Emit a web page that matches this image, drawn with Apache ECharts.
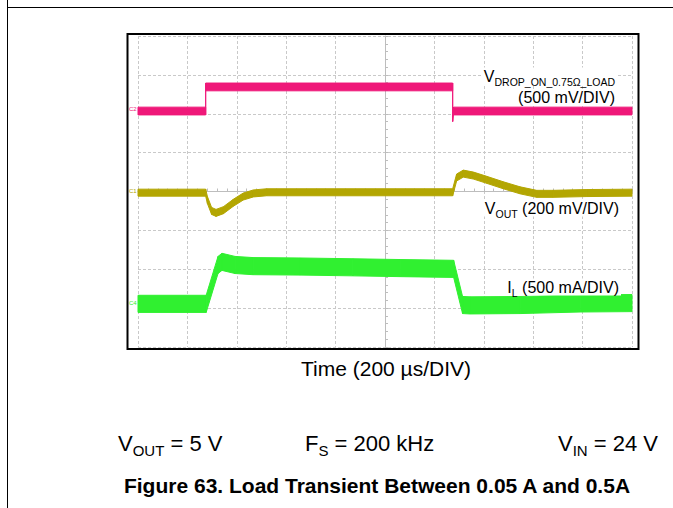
<!DOCTYPE html>
<html>
<head>
<meta charset="utf-8">
<script src="https://cdn.jsdelivr.net/npm/echarts@6.0.0/dist/echarts.min.js"></script>
<style>
  html, body { margin: 0; padding: 0; background: #fff; }
  #chart { width: 673px; height: 508px; }
</style>
</head>
<body>
<div id="chart"></div>
<script>
// scope screen: time in µs from the centre graticule, values in divisions from the centre line
const timeRange = [-1000, 1000]   // 10 div x 200 µs
const divRange = [-4, 4]          // 8 div

// C2: V_DROP (500 mV/DIV)
const pinkTime = [-1000, -726, -726, 274, 274, 277, 1000]
const pinkDiv = [2.07, 2.07, 2.69, 2.69, 1.9, 2.07, 2.07]

// C1: V_OUT (200 mV/DIV)
const oliveTime = [-1000, -726, -719, -702, -684, -654, -614, -574, -533, -479, 274, 290, 317, 358, 412, 479, 547, 614, 681, 817, 1000]
const oliveDiv = [-0.03, -0.03, -0.22, -0.5, -0.55, -0.48, -0.29, -0.13, -0.05, -0.02, -0.02, 0.36, 0.46, 0.41, 0.3, 0.16, 0.03, -0.06, -0.06, -0.04, -0.03]

// C4: I_L (500 mA/DIV)
const greenTime = [-1000, -724, -676, -660, -607, -534, -344, -130, 61, 278, 314, 344, 547, 790, 1000]
const greenDiv = [-2.89, -2.89, -1.89, -1.81, -1.89, -1.92, -1.93, -1.95, -1.97, -1.99, -2.92, -2.93, -2.92, -2.88, -2.87]

const FONT = "'Liberation Sans', Arial, sans-serif"
const GRID_GRAY = '#c9c9c9'
const AXIS_GRAY = '#bdbdbd'

// noisy scope trace drawn as a band of fixed vertical thickness (half, in divisions)
function traceBand(name, times, values, color, half) {
  return {
    type: 'custom',
    name,
    silent: true,
    coordinateSystem: 'cartesian2d',
    data: times.map((t, i) => [t, values[i]]),
    renderItem(params, api) {
      const i = params.dataIndex
      if (i >= times.length - 1) return null
      const a = times[i]
      const b = times[i + 1]
      const points = [
        api.coord([a, values[i] + half]),
        api.coord([b, values[i + 1] + half]),
        api.coord([b, values[i + 1] - half]),
        api.coord([a, values[i] - half])
      ]
      return {
        type: 'polygon',
        shape: { points },
        style: { fill: color, stroke: color, lineWidth: 1 }
      }
    }
  }
}

function label(x, y, text, rich, z) {
  return {
    type: 'text',
    x, y, z: z || 20,
    style: {
      text,
      rich,
      font: '16px ' + FONT,
      fill: '#000',
      align: 'right',
      verticalAlign: 'middle',
      backgroundColor: '#fff',
      padding: [0, 2, 0, 2]
    }
  }
}

const subRich = {
  m: { fontSize: 16, fontFamily: FONT, lineHeight: 17, verticalAlign: 'bottom' },
  s: { fontSize: 10.5, fontFamily: FONT, lineHeight: 17, verticalAlign: 'bottom', padding: [0, 0, -3, 0] }
}

const footRich = {
  m: { fontSize: 22, fontFamily: FONT, lineHeight: 26, verticalAlign: 'bottom' },
  s: { fontSize: 15, fontFamily: FONT, lineHeight: 26, verticalAlign: 'bottom', padding: [0, 0, -4, 0] }
}

const chart = echarts.init(document.getElementById('chart'), null, { renderer: 'svg' })

chart.setOption({
  animation: false,
  backgroundColor: '#fff',
  grid: { left: 138, top: 36, width: 494, height: 311 },
  xAxis: {
    type: 'value',
    min: timeRange[0],
    max: timeRange[1],
    interval: 200,
    axisLabel: { show: false },
    axisLine: { show: true, onZero: true, lineStyle: { color: AXIS_GRAY, width: 1 } },
    axisTick: { show: true, inside: true, length: 3, lineStyle: { color: AXIS_GRAY } },
    minorTick: { show: true, splitNumber: 5, length: 3, lineStyle: { color: AXIS_GRAY } },
    splitLine: { show: true, lineStyle: { color: GRID_GRAY, type: [3, 2], width: 1 } }
  },
  yAxis: {
    type: 'value',
    min: divRange[0],
    max: divRange[1],
    interval: 1,
    axisLabel: { show: false },
    axisLine: { show: true, onZero: true, lineStyle: { color: AXIS_GRAY, width: 1 } },
    axisTick: { show: true, inside: true, length: 3, lineStyle: { color: AXIS_GRAY } },
    minorTick: { show: true, splitNumber: 5, length: 3, lineStyle: { color: AXIS_GRAY } },
    splitLine: { show: true, lineStyle: { color: GRID_GRAY, type: [3, 2], width: 1 } }
  },
  series: [
    traceBand('V_DROP', pinkTime, pinkDiv, '#ef1879', 0.1),
    traceBand('V_OUT', oliveTime, oliveDiv, '#b3a602', 0.09),
    traceBand('I_L', greenTime, greenDiv, '#30f030', 0.22)
  ],
  graphic: [
    // page border
    { type: 'line', shape: { x1: 8, y1: 7.5, x2: 673, y2: 7.5 }, style: { stroke: '#000', lineWidth: 1 } },
    { type: 'line', shape: { x1: 7.5, y1: 0, x2: 7.5, y2: 508 }, style: { stroke: '#000', lineWidth: 1 } },
    // scope frame
    { type: 'rect', z: 15, shape: { x: 127.5, y: 34, width: 511, height: 315 }, style: { fill: 'none', stroke: '#000', lineWidth: 2 } },
    // channel markers
    { type: 'text', x: 129, y: 109, z: 20, style: { text: 'C2', font: '6px ' + FONT, fill: '#ef1879', verticalAlign: 'middle' } },
    { type: 'text', x: 129, y: 191, z: 20, style: { text: 'C1', font: '6px ' + FONT, fill: '#b3a602', verticalAlign: 'middle' } },
    { type: 'text', x: 129, y: 303, z: 20, style: { text: 'C4', font: '6px ' + FONT, fill: '#30f030', verticalAlign: 'middle' } },
    // trace labels
    label(617, 97, '(500 mV/DIV)', null, 19),
    label(617, 76, '{m|V}{s|DROP_ON_0.75Ω_LOAD}', subRich, 21),
    label(621, 208, '{m|V}{s|OUT}{m| (200 mV/DIV)}', subRich),
    label(621, 287, '{m|I}{s|L}{m| (500 mA/DIV)}', subRich),
    // axis title
    { type: 'text', x: 386, y: 368, style: { text: 'Time (200 µs/DIV)', font: '21px ' + FONT, fill: '#000', align: 'center', verticalAlign: 'middle' } },
    // conditions
    { type: 'text', x: 118, y: 441, style: { text: '{m|V}{s|OUT}{m| = 5 V}', rich: footRich, fill: '#000', align: 'left', verticalAlign: 'middle' } },
    { type: 'text', x: 305, y: 441, style: { text: '{m|F}{s|S}{m| = 200 kHz}', rich: footRich, fill: '#000', align: 'left', verticalAlign: 'middle' } },
    { type: 'text', x: 658, y: 441, style: { text: '{m|V}{s|IN}{m| = 24 V}', rich: footRich, fill: '#000', align: 'right', verticalAlign: 'middle' } },
    // figure caption
    { type: 'text', x: 377, y: 485, style: { text: 'Figure 63. Load Transient Between 0.05 A and 0.5A', font: 'bold 21px ' + FONT, fill: '#000', align: 'center', verticalAlign: 'middle' } }
  ]
})
</script>
</body>
</html>
